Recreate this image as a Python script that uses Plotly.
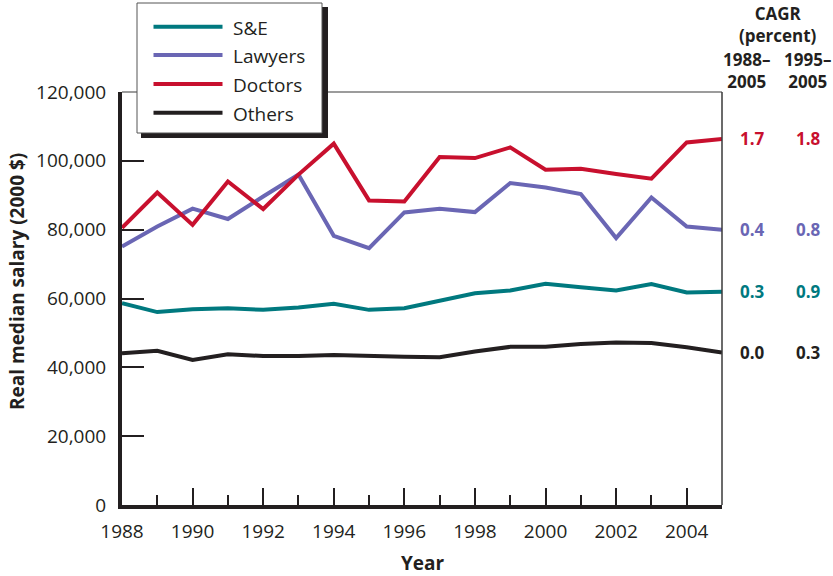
import plotly.graph_objects as go

# real median salary (2000 $)
years = list(range(1988, 2006))
se = [58650, 56050, 56900, 57200, 56700, 57400, 58450, 56700, 57200,
      59400, 61550, 62300, 64250, 63300, 62300, 64200, 61750, 61950]
lawyers = [75100, 80900, 86100, 83100, 89650, 96000, 78200, 74650, 85000,
           86100, 85100, 93550, 92250, 90350, 77550, 89350, 80900, 80000]
doctors = [80550, 90800, 81400, 94000, 86000, 96000, 105000, 88500, 88200,
           101100, 100800, 103900, 97400, 97700, 96200, 94800, 105350, 106350]
others = [44100, 44800, 42150, 43800, 43300, 43300, 43600, 43250, 43050,
          42950, 44600, 45950, 45950, 46750, 47250, 47100, 45850, 44300]

series_names = ["S&E", "Lawyers", "Doctors", "Others"]
series_values = [se, lawyers, doctors, others]
cagr_1988_2005 = ["0.3", "0.4", "1.7", "0.0"]
cagr_1995_2005 = ["0.9", "0.8", "1.8", "0.3"]

COLORS = ["#00797f", "#6a66b4", "#c8102e", "#231f20"]
INK = "#231f20"
FONT = "Open Sans"

W, H = 833, 576
L, R, T, B = 122, 722, 92, 505  # plot area in pixels


def px(x):
    return (x - L) / (R - L)


def py(y):
    return (B - y) / (B - T)


fig = go.Figure()
for name, vals, color in zip(series_names, series_values, COLORS):
    fig.add_trace(
        go.Scatter(x=years, y=vals, name=name, mode="lines",
                   line=dict(color=color, width=4), showlegend=False)
    )

fig.update_xaxes(
    range=[1988, 2005],
    tickmode="linear", tick0=1988, dtick=2,
    ticks="inside", ticklen=17, tickwidth=1.5, tickcolor=INK,
    minor=dict(dtick=1, tick0=1988, ticks="inside", ticklen=10,
               tickwidth=1.5, tickcolor=INK),
    showline=True, linewidth=4, linecolor=INK,
    showgrid=False, zeroline=False,
    tickfont=dict(family=FONT, size=19, color=INK),
    ticklabelstandoff=6,
)
fig.update_yaxes(
    range=[0, 120000],
    tickmode="linear", tick0=0, dtick=20000, tickformat=",",
    ticks="inside", ticklen=22, tickwidth=1.5, tickcolor=INK,
    showline=True, linewidth=4, linecolor=INK,
    showgrid=False, zeroline=False,
    tickfont=dict(family=FONT, size=19, color=INK),
    ticklabelstandoff=8,
)

shapes = [
    # thin top and right frame
    dict(type="line", xref="paper", yref="paper", x0=0, x1=1, y0=1, y1=1,
         line=dict(color="#3a3a3a", width=1.2)),
    dict(type="line", xref="paper", yref="paper", x0=1, x1=1, y0=0, y1=1,
         line=dict(color="#3a3a3a", width=1.5)),
    # legend shadow + box
    dict(type="rect", xref="paper", yref="paper", x0=px(141), x1=px(328),
         y0=py(138), y1=py(7), fillcolor=INK, line_width=0),
    dict(type="rect", xref="paper", yref="paper", x0=px(137), x1=px(322),
         y0=py(133), y1=py(3), fillcolor="white",
         line=dict(color="#555555", width=1)),
]
annotations = []
legend_rows = [26.7, 55, 84, 112.7]
for name, color, ypix in zip(series_names, COLORS, legend_rows):
    shapes.append(dict(type="line", xref="paper", yref="paper",
                       x0=px(153.5), x1=px(222.5), y0=py(ypix), y1=py(ypix),
                       line=dict(color=color, width=4)))
    annotations.append(dict(text=name, xref="paper", yref="paper",
                            x=px(231), y=py(ypix + 1), xanchor="left",
                            yanchor="middle", showarrow=False,
                            font=dict(family=FONT, size=19, color=INK)))

# CAGR columns, placed at the 2005 level of each series
bold17 = dict(family=FONT, size=17, color=INK, weight="bold")
for vals, color, a, b in zip(series_values, COLORS, cagr_1988_2005, cagr_1995_2005):
    for xp, txt in ((752, a), (808.5, b)):
        annotations.append(dict(text=txt, xref="paper", yref="y", x=px(xp),
                                y=vals[-1], xanchor="center", yanchor="middle",
                                showarrow=False, font={**bold17, "color": color}))

for txt, xp, yp in [("CAGR<br>(percent)", 777.5, 24.5),
                    ("1988–<br>2005", 746, 70),
                    ("1995–<br>2005", 807.5, 70)]:
    annotations.append(dict(text=txt, xref="paper", yref="paper", x=px(xp),
                            y=py(yp), xanchor="center", yanchor="middle",
                            showarrow=False, font=bold17))

annotations.append(dict(text="Real median salary (2000 $)", xref="paper",
                        yref="paper", x=px(17), y=py(282), textangle=-90,
                        xanchor="center", yanchor="middle", showarrow=False,
                        font=dict(family=FONT, size=19, color=INK, weight="bold")))
annotations.append(dict(text="Year", xref="paper", yref="paper", x=px(423),
                        y=py(563), xanchor="center", yanchor="middle",
                        showarrow=False,
                        font=dict(family=FONT, size=19, color=INK, weight="bold")))

fig.update_layout(
    width=W, height=H,
    margin=dict(l=L, r=W - R, t=T, b=H - B),
    plot_bgcolor="white", paper_bgcolor="white",
    shapes=shapes, annotations=annotations,
    font=dict(family=FONT, color=INK),
)

# drop the browser's default 8px body margin so the figure sits at 0,0
fig.write_html("out.html", config={"displayModeBar": False},
               post_script="document.body.style.margin='0';")
